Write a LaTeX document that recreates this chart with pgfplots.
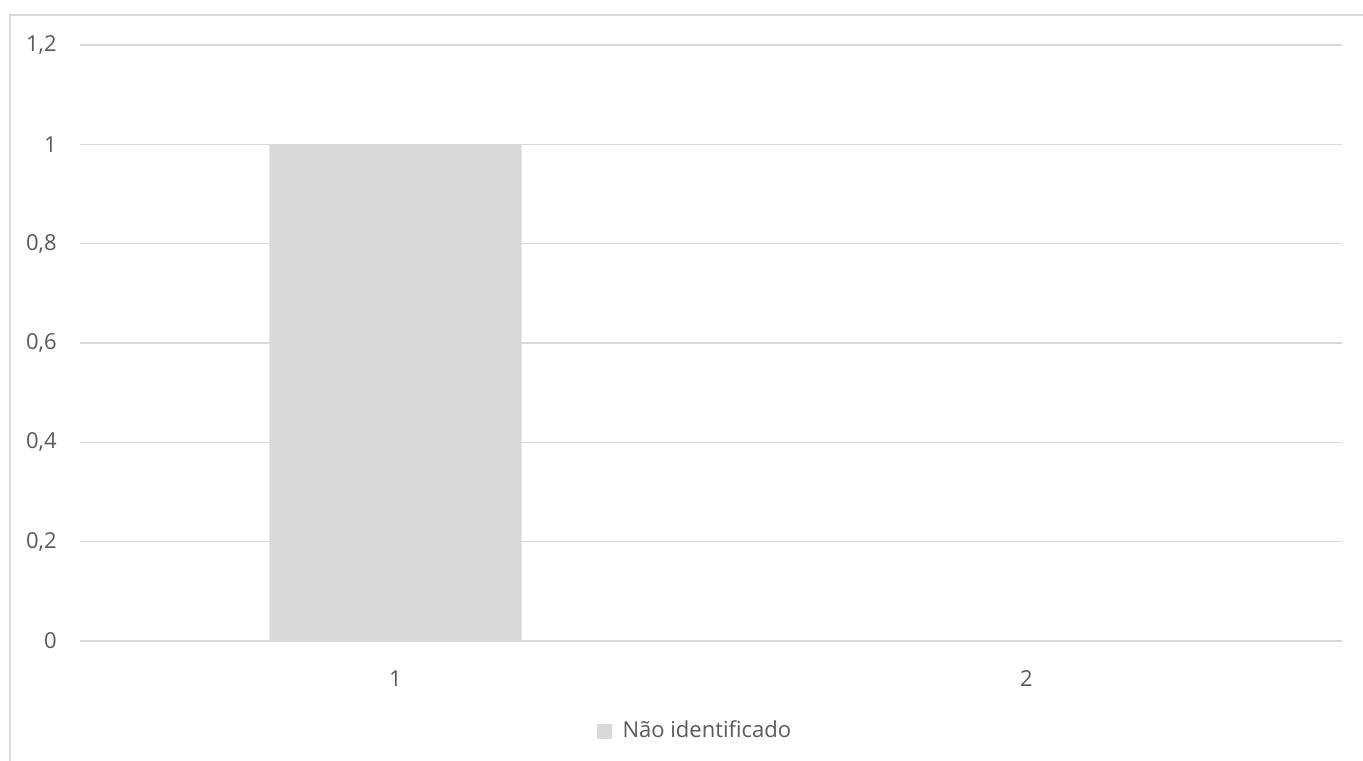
\documentclass[border=0pt]{standalone}
\usepackage{pgfplots}
\pgfplotsset{compat=1.18}
\usepackage{fontspec}
\setmainfont{Open Sans}
\definecolor{txt}{HTML}{595959}
\definecolor{gridc}{HTML}{D9D9D9}
\definecolor{barc}{HTML}{D9D9D9}

\begin{document}
\begin{tikzpicture}
\useasboundingbox (0,0) rectangle (681.5pt,380pt);
\draw[gridc, line width=0.8pt] (5pt,-10pt) -- (5pt,372.5pt) -- (700pt,372.5pt);
\begin{axis}[
    at={(40pt,59.5pt)}, anchor=south west,
    scale only axis,
    width=631pt, height=298pt,
    ybar, bar width=0.4, bar shift=0pt,
    xmin=0.5, xmax=2.5,
    ymin=0, ymax=1.2,
    xtick={1,2}, xticklabels={1,2},
    ytick={0,0.2,0.4,0.6,0.8,1,1.2},
    ymajorgrids,
    grid style={gridc, line width=0.75pt},
    axis line style={draw=none},
    major tick length=0pt,
    /pgf/number format/.cd, use comma, assume math mode=true, /pgfplots/.cd,
    tick label style={font=\fontsize{11}{13}\selectfont, text=txt},
    yticklabel style={inner sep=0pt, anchor=east, xshift=-11.5pt},
    xticklabel style={inner sep=0pt, anchor=north, yshift=-14.5pt},
    legend style={at={(0.488,-0.151)}, anchor=center, draw=none, fill=none,
        font=\fontsize{11}{13}\selectfont, text=txt,
        /tikz/every even column/.append style={column sep=0pt}},
    legend image code/.code={\fill[barc] (0pt,-3.75pt) rectangle (7.5pt,3.75pt);},
    legend cell align=left,
]
\addplot[fill=barc, draw=none] coordinates {(1,1) (2,0)};
\addlegendentry{\hspace{3.5pt}Não identificado}
\end{axis}
\end{tikzpicture}
\end{document}
